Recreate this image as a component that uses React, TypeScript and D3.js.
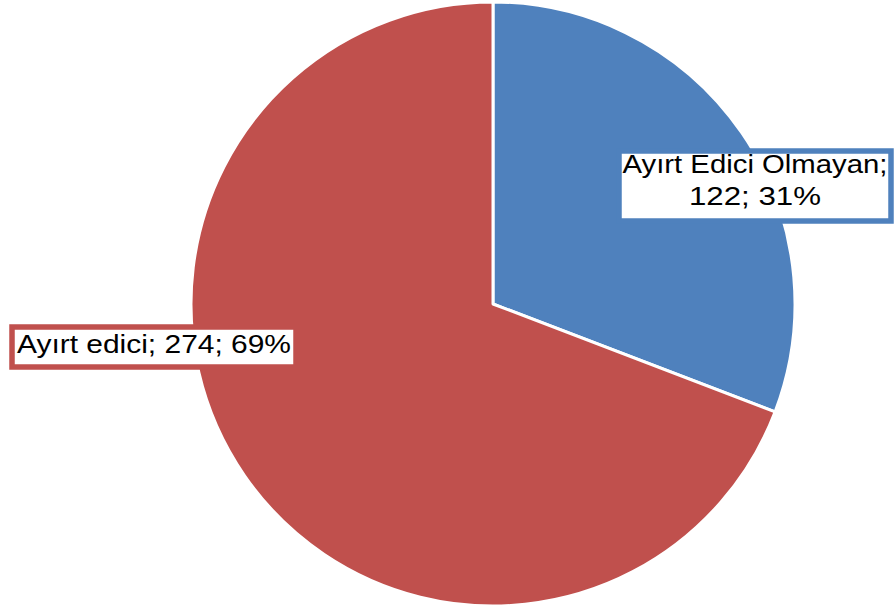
import { useEffect, useRef } from "react";
import * as d3 from "d3";

const categories = ["Ayırt Edici Olmayan", "Ayırt edici"];
const values = [122, 274];
const percents = [31, 69];
const colors = ["#4F81BD", "#C0504D"];

const W = 894, H = 611;
const cx = 493, cy = 304, radius = 302;

// label boxes (center x/y, width, height), text lines with baseline offset and width
const labelBoxes = [
  {
    x: 755, y: 186, w: 272, h: 70,
    lines: [
      { t: categories[0] + ";", dy: -13, len: 265 },
      { t: values[0] + "; " + percents[0] + "%", dy: 19, len: 132 },
    ],
  },
  {
    x: 154, y: 347, w: 284, h: 40,
    lines: [{ t: categories[1] + "; " + values[1] + "; " + percents[1] + "%", dy: 6, len: 274 }],
  },
];

export default function App() {
  const ref = useRef<SVGSVGElement>(null);

  useEffect(() => {
    const svg = d3.select(ref.current);
    svg.selectAll("*").remove();

    const pie = d3.pie<number>().sort(null).value(d => d);
    const arc = d3.arc<d3.PieArcDatum<number>>().innerRadius(0).outerRadius(radius);

    const g = svg.append("g").attr("transform", `translate(${cx},${cy})`);
    g.selectAll("path")
      .data(pie(values))
      .join("path")
      .attr("d", arc)
      .attr("fill", (d, i) => colors[i])
      .attr("stroke", "#fff")
      .attr("stroke-width", 3)
      .attr("stroke-linejoin", "round");

    labelBoxes.forEach((b, i) => {
      const lg = svg.append("g").attr("transform", `translate(${b.x},${b.y})`);
      lg.append("rect")
        .attr("x", -b.w / 2)
        .attr("y", -b.h / 2)
        .attr("width", b.w)
        .attr("height", b.h)
        .attr("fill", "#fff")
        .attr("stroke", colors[i])
        .attr("stroke-width", 5.5);
      b.lines.forEach(l => {
        lg.append("text")
          .attr("x", 0)
          .attr("y", l.dy)
          .attr("text-anchor", "middle")
          .attr("font-family", "'Liberation Sans', Arial, sans-serif")
          .attr("font-size", 26.5)
          .attr("textLength", l.len)
          .attr("lengthAdjust", "spacingAndGlyphs")
          .attr("fill", "#000")
          .text(l.t);
      });
    });
  }, []);

  return (
    <svg ref={ref} width={W} height={H}
      style={{ position: "absolute", left: 0, top: 0, background: "#fff" }} />
  );
}
